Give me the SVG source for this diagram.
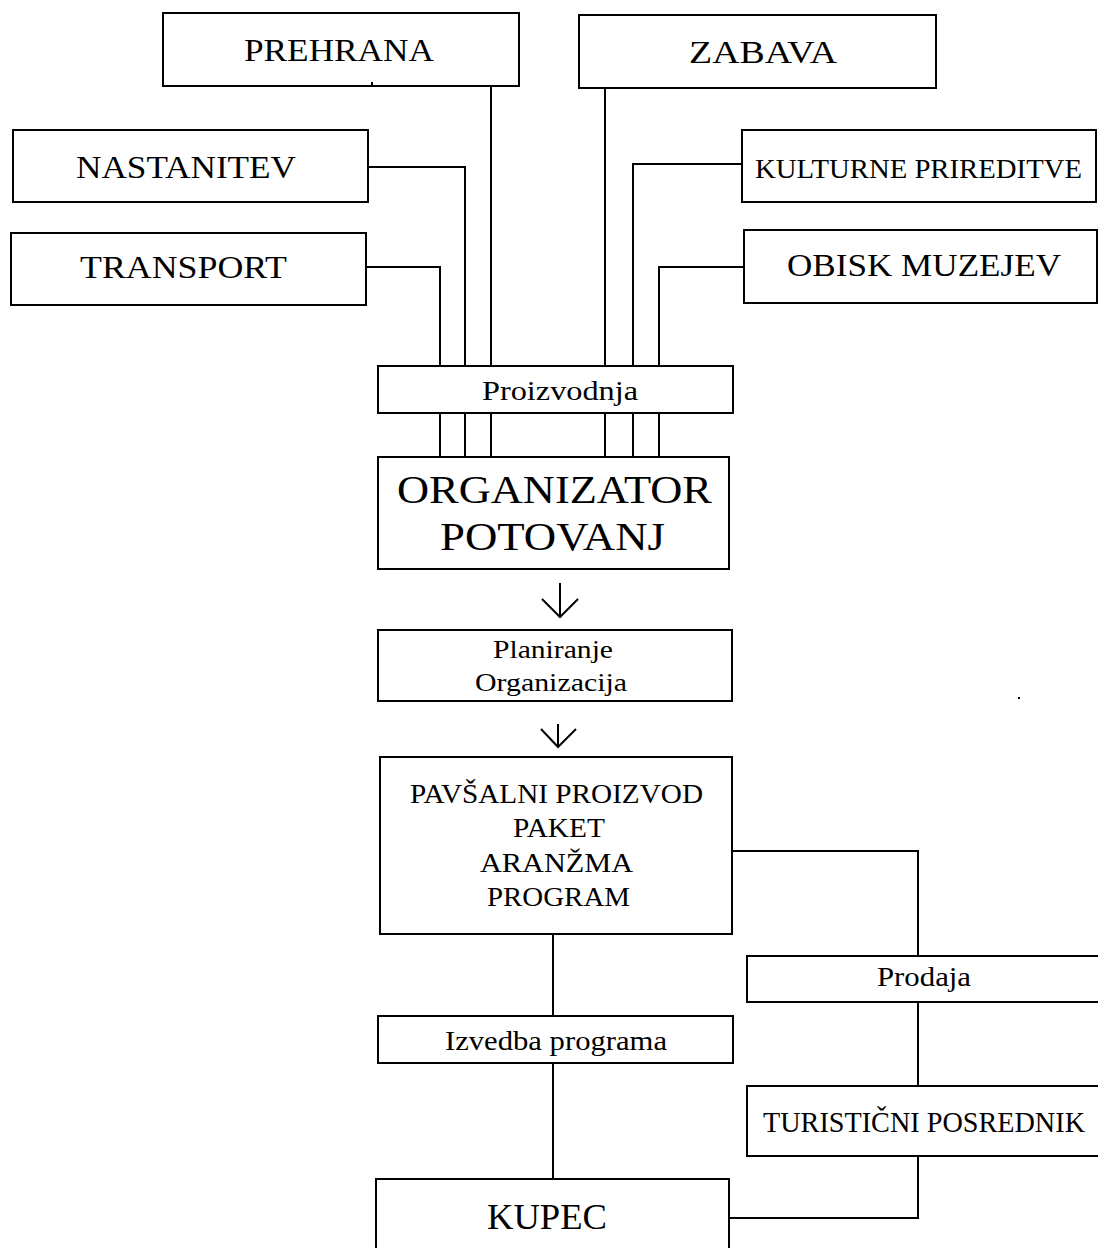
<svg xmlns="http://www.w3.org/2000/svg" width="1098" height="1248" viewBox="0 0 1098 1248">
<style>
.box{fill:#fff;stroke:#000;stroke-width:2}
.ln{fill:none;stroke:#000;stroke-width:2}
text{font-family:"Liberation Serif","Times New Roman",serif;fill:#000;text-anchor:middle}
.t32{font-size:32px}
.t28{font-size:28px}
.t26{font-size:26px}
.t27{font-size:27px}
.t31{font-size:30px}
.t36{font-size:36px}
.t40{font-size:40px}
</style>
<rect width="1098" height="1248" fill="#fff"/>
<g id="connectors">
<path class="ln" d="M366 267 H440 V457"/>
<path class="ln" d="M368 167 H465 V457"/>
<path class="ln" d="M491 86 V457"/>
<path class="ln" d="M605 88 V457"/>
<path class="ln" d="M742 164 H633 V457"/>
<path class="ln" d="M744 267 H659 V457"/>
<path class="ln" d="M560 583 V617 M542 599 L560 617 L578 599"/>
<path class="ln" d="M558 724 V747 M541 729 L558 747 L576 729"/>
<path class="ln" d="M553 934 V1016"/>
<path class="ln" d="M553 1063 V1179"/>
<path class="ln" d="M732 851 H918 V956"/>
<path class="ln" d="M918 1002 V1086"/>
<path class="ln" d="M918 1156 V1218 H729"/>
</g>
<g id="prehrana"><rect class="box" x="163" y="13" width="356" height="73"/><text class="t32" x="339" y="61" textLength="190" lengthAdjust="spacingAndGlyphs">PREHRANA</text><rect x="371" y="82" width="2" height="4" fill="#000"/></g>
<g id="nastanitev"><rect class="box" x="13" y="130" width="355" height="72"/><text class="t32" x="186" y="178" textLength="220" lengthAdjust="spacingAndGlyphs">NASTANITEV</text></g>
<g id="transport"><rect class="box" x="11" y="233" width="355" height="72"/><text class="t32" x="183.5" y="278" textLength="207" lengthAdjust="spacingAndGlyphs">TRANSPORT</text></g>
<g id="zabava"><rect class="box" x="579" y="15" width="357" height="73"/><text class="t32" x="763" y="63" textLength="148" lengthAdjust="spacingAndGlyphs">ZABAVA</text></g>
<g id="kulturne"><rect class="box" x="742" y="130" width="354" height="72"/><text class="t28" x="918.5" y="178" textLength="327" lengthAdjust="spacingAndGlyphs">KULTURNE PRIREDITVE</text></g>
<g id="obisk"><rect class="box" x="744" y="230" width="353" height="73"/><text class="t32" x="924" y="276" textLength="274" lengthAdjust="spacingAndGlyphs">OBISK MUZEJEV</text></g>
<g id="proizvodnja"><rect class="box" x="378" y="366" width="355" height="47"/><text class="t28" x="560" y="400" textLength="156" lengthAdjust="spacingAndGlyphs">Proizvodnja</text></g>
<g id="organizator"><rect class="box" x="378" y="457" width="351" height="112"/><text class="t40" x="554.5" y="503" textLength="315" lengthAdjust="spacingAndGlyphs">ORGANIZATOR</text><text class="t40" x="552.5" y="550" textLength="225" lengthAdjust="spacingAndGlyphs">POTOVANJ</text></g>
<g id="planiranje"><rect class="box" x="378" y="630" width="354" height="71"/><text class="t26" x="553" y="658" textLength="120" lengthAdjust="spacingAndGlyphs">Planiranje</text><text class="t26" x="551" y="691" textLength="152" lengthAdjust="spacingAndGlyphs">Organizacija</text></g>
<g id="pavsalni"><rect class="box" x="380" y="757" width="352" height="177"/><text class="t27" x="556.5" y="803" textLength="293" lengthAdjust="spacingAndGlyphs">PAVŠALNI PROIZVOD</text><text class="t27" x="559" y="837" textLength="92" lengthAdjust="spacingAndGlyphs">PAKET</text><text class="t27" x="556.5" y="872" textLength="153" lengthAdjust="spacingAndGlyphs">ARANŽMA</text><text class="t27" x="558.5" y="906" textLength="143" lengthAdjust="spacingAndGlyphs">PROGRAM</text></g>
<g id="izvedba"><rect class="box" x="378" y="1016" width="355" height="47"/><text class="t28" x="556" y="1050" textLength="222" lengthAdjust="spacingAndGlyphs">Izvedba programa</text></g>
<g id="prodaja"><rect class="box" x="747" y="956" width="360" height="46"/><text class="t27" x="924" y="986" textLength="94" lengthAdjust="spacingAndGlyphs">Prodaja</text></g>
<g id="posrednik"><rect class="box" x="747" y="1086" width="360" height="70"/><text class="t31" x="924" y="1132" textLength="322" lengthAdjust="spacingAndGlyphs">TURISTIČNI POSREDNIK</text></g>
<g id="kupec"><rect class="box" x="376" y="1179" width="353" height="100"/><text class="t36" x="547" y="1229" textLength="120" lengthAdjust="spacingAndGlyphs">KUPEC</text></g>
<rect x="1018" y="697" width="2" height="2" fill="#000"/>
</svg>
